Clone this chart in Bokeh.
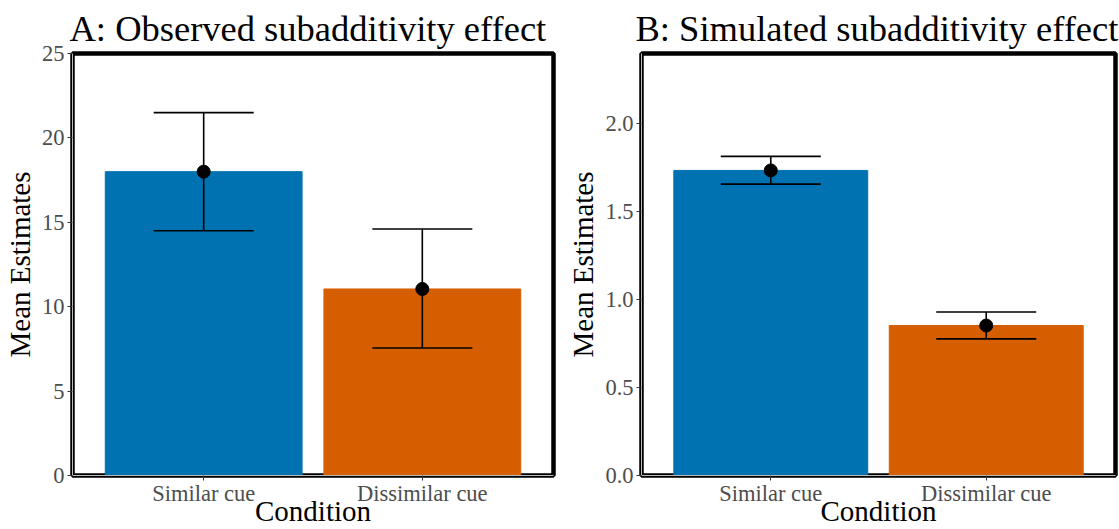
from bokeh.plotting import figure
from bokeh.models import Range1d, FixedTicker, ColumnDataSource, Whisker, TeeHead
from bokeh.layouts import row
from bokeh.embed import file_html
from bokeh.resources import INLINE

conditions = ["Similar cue", "Dissimilar cue"]
bar_colors = ["#0072B2", "#D55E00"]

obs_mean = [18.0, 11.05]
obs_lower = [14.5, 7.55]
obs_upper = [21.5, 14.6]

sim_mean = [1.735, 0.853]
sim_lower = [1.657, 0.777]
sim_upper = [1.815, 0.930]

obs_yticks = [0, 5, 10, 15, 20, 25]
obs_ytick_labels = ["0", "5", "10", "15", "20", "25"]
sim_yticks = [0.0, 0.5, 1.0, 1.5, 2.0]
sim_ytick_labels = ["0.0", "0.5", "1.0", "1.5", "2.0"]

FONT = "Liberation Serif"


def make_panel(title, means, lower, upper, ymax, yticks, ylabels,
               width, height, bl, br, title_offset):
    xs = [i + 1 for i in range(len(conditions))]
    src = ColumnDataSource(dict(x=xs, mean=means, lower=lower, upper=upper,
                                color=bar_colors, name=conditions))
    xmin, xmax = 0.4, len(conditions) + 0.6
    p = figure(width=width, height=height, output_backend="svg",
               toolbar_location=None,
               x_range=Range1d(xmin, xmax),
               y_range=Range1d(0, ymax),
               min_border_left=bl, min_border_right=br,
               min_border_top=53, min_border_bottom=54)
    p.vbar(x="x", top="mean", bottom=0, width=0.9, color="color", source=src)
    w = Whisker(base="x", lower="lower", upper="upper", source=src,
                line_color="black", line_width=1.6, level="overlay",
                upper_head=TeeHead(size=100, line_color="black", line_width=1.6),
                lower_head=TeeHead(size=100, line_color="black", line_width=1.6))
    p.add_layout(w)
    p.scatter(x="x", y="mean", size=13, color="black", source=src, level="overlay")

    p.title.text = title
    p.title.text_font = FONT
    p.title.text_font_size = "36.5px"
    p.title.text_font_style = "normal"
    p.title.text_color = "black"
    p.title.align = "left"
    p.title.standoff = 9
    p.title.offset = title_offset

    p.xgrid.visible = False
    p.ygrid.visible = False
    p.background_fill_color = "white"
    p.border_fill_color = "white"
    p.outline_line_color = "black"
    p.outline_line_width = 4.5

    p.xaxis.ticker = FixedTicker(ticks=xs)
    p.xaxis.major_label_overrides = {x: n for x, n in zip(xs, conditions)}
    p.yaxis.ticker = FixedTicker(ticks=yticks)
    p.yaxis.major_label_overrides = {t: l for t, l in zip(yticks, ylabels)}
    p.xaxis.axis_label = "Condition"
    p.yaxis.axis_label = "Mean Estimates"
    for ax in (p.xaxis, p.yaxis):
        ax.axis_label_text_font = FONT
        ax.axis_label_text_font_size = "29px"
        ax.axis_label_text_font_style = "normal"
        ax.axis_label_text_color = "black"
        ax.major_label_text_font = FONT
        ax.major_label_text_font_size = "22.5px"
        ax.major_label_text_color = "#4D4D4D"
        ax.major_tick_line_color = "#333333"
        ax.major_tick_out = 5
        ax.major_tick_in = 0
        ax.minor_tick_line_color = None
        ax.axis_line_color = "#BBBBBB"
    p.yaxis.major_label_standoff = 3
    p.yaxis.axis_label_standoff = 3
    p.xaxis.major_label_standoff = 0
    p.xaxis.axis_label_standoff = -14
    return p


pA = make_panel("A: Observed subadditivity effect", obs_mean, obs_lower, obs_upper,
                25, obs_yticks, obs_ytick_labels, 564, 529, 72, 11, -3)
pB = make_panel("B: Simulated subadditivity effect", sim_mean, sim_lower, sim_upper,
                2.4, sim_yticks, sim_ytick_labels, 555, 529, 75, 4, -6)

layout = row(pA, pB, spacing=0)
open("out.html", "w").write(file_html(layout, INLINE))
